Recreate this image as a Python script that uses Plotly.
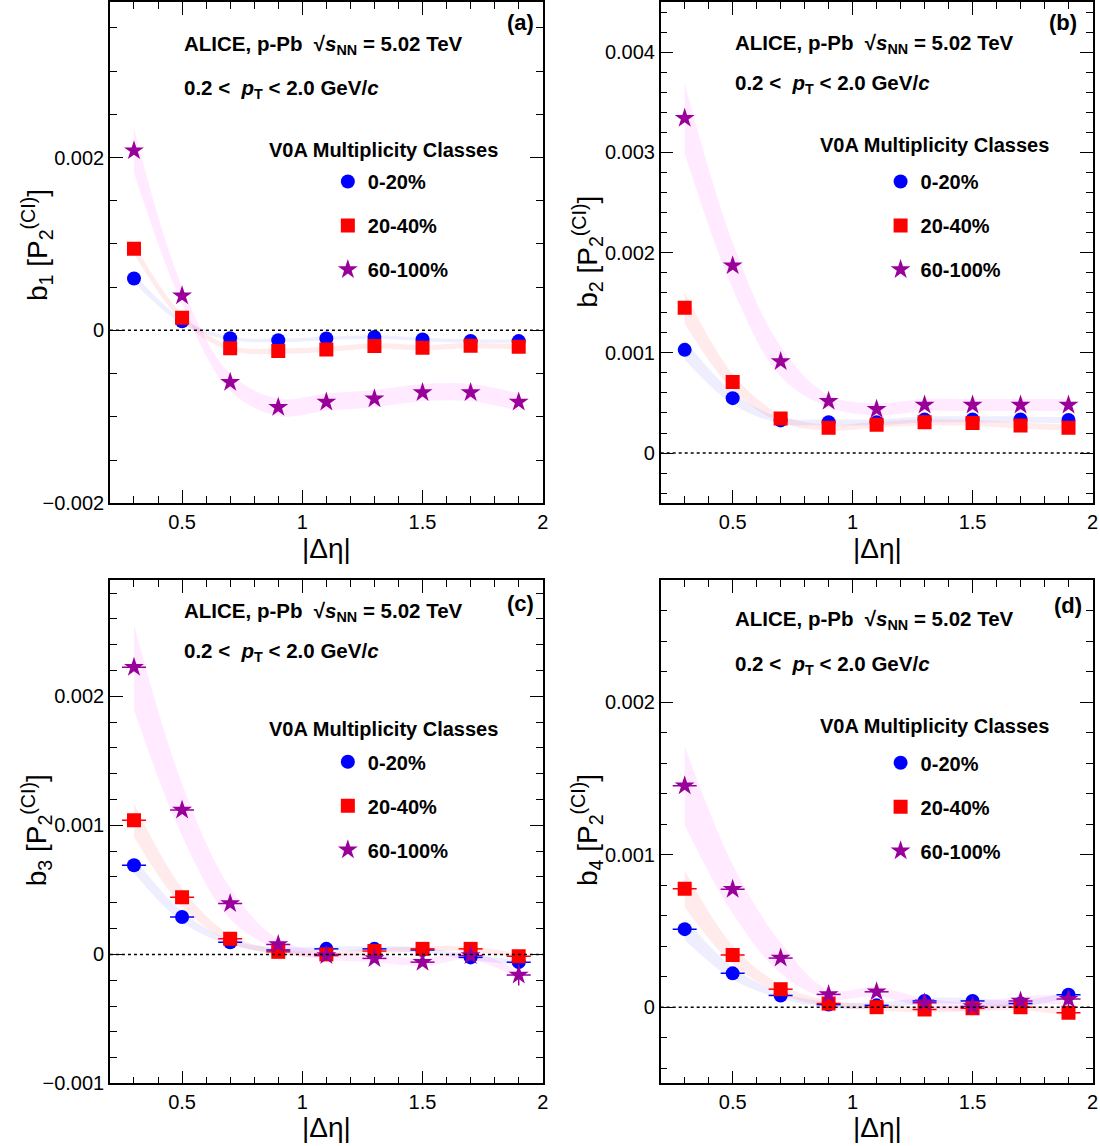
import plotly.graph_objects as go

# ---------------- data ----------------
deta = [0.3, 0.5, 0.7, 0.9, 1.1, 1.3, 1.5, 1.7, 1.9]
class_names = ["0-20%", "20-40%", "60-100%"]

# (a) b1
b1_0_20 = [0.00060, 0.000105, -0.000092, -0.000115, -0.000093, -0.000076, -0.000105, -0.000122, -0.000124]
b1_20_40 = [0.000946, 0.000145, -0.000207, -0.00024, -0.00022, -0.00018, -0.0002, -0.000177, -0.00019]
b1_60_100 = [0.00208, 0.000402, -0.0006, -0.00089, -0.00083, -0.00079, -0.00072, -0.00072, -0.00083]
b1_0_20_sys = [0.00005, 0.00003, 0.00002, 0.00002, 0.00002, 0.00002, 0.00002, 0.00002, 0.00002]
b1_20_40_sys = [0.00006, 0.00004, 0.00003, 0.00003, 0.00003, 0.00003, 0.00003, 0.00003, 0.00003]
b1_60_100_sys = [0.00026, 0.0001, 0.0001, 0.0001, 0.0001, 0.0001, 0.0001, 0.0001, 0.0001]

# (b) b2
b2_0_20 = [0.00103, 0.000548, 0.000326, 0.000307, 0.000307, 0.000336, 0.000336, 0.000336, 0.00033]
b2_20_40 = [0.00145, 0.00071, 0.000345, 0.000253, 0.000282, 0.000307, 0.0003, 0.000275, 0.000253]
b2_60_100 = [0.00334, 0.00187, 0.000913, 0.000517, 0.000438, 0.00048, 0.00048, 0.00048, 0.00048]
b2_0_20_sys = [0.0001, 0.00006, 0.00003, 0.00003, 0.00003, 0.00003, 0.00003, 0.00003, 0.00003]
b2_20_40_sys = [0.00016, 0.00008, 0.00004, 0.00003, 0.00003, 0.00003, 0.00003, 0.00003, 0.00003]
b2_60_100_sys = [0.00035, 0.00023, 0.00015, 0.00006, 0.00006, 0.00006, 0.00006, 0.00006, 0.00006]

# (c) b3
b3_0_20 = [0.000691, 0.00029, 0.000094, 0.000034, 0.000043, 0.000043, 0.000034, -0.000023, -0.00006]
b3_20_40 = [0.00104, 0.000443, 0.000121, 0.00002, 0.0, 0.000026, 0.000043, 0.000043, -0.000014]
b3_60_100 = [0.002226, 0.00112, 0.000394, 0.000077, -0.000009, -0.000031, -0.00006, -0.000009, -0.00016]
b3_0_20_sys = [0.00006, 0.00004, 0.00002, 0.00002, 0.00002, 0.00002, 0.00002, 0.00002, 0.00002]
b3_20_40_sys = [0.00013, 0.00007, 0.00003, 0.00002, 0.00002, 0.00002, 0.00002, 0.00002, 0.00002]
b3_60_100_sys = [0.00033, 0.0002, 0.00012, 0.00004, 0.00003, 0.00003, 0.00003, 0.00003, 0.00003]
b3_stat = [0.00002, 0.00002, 0.00002, 0.00002, 0.00002, 0.00002, 0.00002, 0.00002, 0.00003]
b3_60_100_stat = [0.00002, 0.00002, 0.00002, 0.00002, 0.00002, 0.00003, 0.00003, 0.00004, 0.00008]

# (d) b4
b4_0_20 = [0.000512, 0.000222, 0.000077, 0.000017, 0.000012, 0.000041, 0.000041, 0.000024, 0.000082]
b4_20_40 = [0.000776, 0.000343, 0.000118, 0.000024, 0.0, -0.000015, -0.000007, 0.0, -0.000036]
b4_60_100 = [0.001453, 0.000774, 0.000322, 0.000084, 0.000101, 0.000029, 0.000005, 0.000041, 0.000053]
b4_0_20_sys = [0.00007, 0.00004, 0.00002, 0.00002, 0.00002, 0.00002, 0.00002, 0.00002, 0.00002]
b4_20_40_sys = [0.00012, 0.00006, 0.00003, 0.00002, 0.00002, 0.00002, 0.00002, 0.00002, 0.00002]
b4_60_100_sys = [0.00026, 0.00016, 0.0001, 0.00003, 0.00003, 0.00003, 0.00003, 0.00003, 0.00003]
b4_stat = [0.00002, 0.00002, 0.00002, 0.00002, 0.00002, 0.00002, 0.00002, 0.00002, 0.00002]
b4_60_100_stat = [0.00002, 0.00002, 0.00002, 0.00002, 0.00002, 0.00002, 0.00002, 0.00003, 0.00005]

# ---------------- style ----------------
W, H = 1100, 1146
SX, SY = 0.995, 0.99   # compensation for the slight shrink seen in the rendered picture
def px(x): return min(1.0, (x / SX) / W)
def py(y): return max(0.0, 1 - (y / SY) / H)

FONT = "Arial, Liberation Sans, Helvetica, sans-serif"
marker_colors = ["#0000ff", "#ff0000", "#990099"]
band_colors = ["rgba(90,90,255,0.10)", "rgba(255,70,70,0.11)", "rgba(255,60,255,0.11)"]
symbols = ["circle", "square", "star"]
sizes = [14, 14, 15]

panels = [
    dict(n=1, label="(a)", sub="1",
         vals=[b1_0_20, b1_20_40, b1_60_100], sys=[b1_0_20_sys, b1_20_40_sys, b1_60_100_sys],
         stat=None, xerr=False,
         xdom=(110, 543), ydom=(2, 503), yrange=[-0.002, 0.0038], dtick=0.002, mdtick=0.0005,
         alice=(182, 45), pt=(182, 89), lab=(521, 22), v0a=(267, 150), leg=(328, 162),
         ytitle=(37, 245), xtitle=(327, 548)),
    dict(n=2, label="(b)", sub="2",
         vals=[b2_0_20, b2_20_40, b2_60_100], sys=[b2_0_20_sys, b2_20_40_sys, b2_60_100_sys],
         stat=None, xerr=False,
         xdom=(661, 1093), ydom=(2, 503), yrange=[-0.0005, 0.0045], dtick=0.001, mdtick=0.0002,
         alice=(733, 44), pt=(733, 84), lab=(1063, 22), v0a=(818, 145), leg=(881, 162),
         ytitle=(588, 252), xtitle=(878, 548)),
    dict(n=3, label="(c)", sub="3",
         vals=[b3_0_20, b3_20_40, b3_60_100], sys=[b3_0_20_sys, b3_20_40_sys, b3_60_100_sys],
         stat=[b3_stat, b3_stat, b3_60_100_stat], xerr=True,
         xdom=(110, 543), ydom=(580, 1083), yrange=[-0.001, 0.0029], dtick=0.001, mdtick=0.0002,
         alice=(182, 612), pt=(182, 652), lab=(521, 603), v0a=(267, 729), leg=(328, 742),
         ytitle=(37, 830), xtitle=(327, 1127)),
    dict(n=4, label="(d)", sub="4",
         vals=[b4_0_20, b4_20_40, b4_60_100], sys=[b4_0_20_sys, b4_20_40_sys, b4_60_100_sys],
         stat=[b4_stat, b4_stat, b4_60_100_stat], xerr=True,
         xdom=(661, 1093), ydom=(580, 1083), yrange=[-0.0005, 0.0028], dtick=0.001, mdtick=0.0002,
         alice=(733, 620), pt=(733, 665), lab=(1068, 605), v0a=(818, 726), leg=(881, 743),
         ytitle=(588, 830), xtitle=(878, 1127)),
]

fig = go.Figure()
annotations = []
shapes = []
layout_axes = {}

for p in panels:
    n = p["n"]
    xa = "x" if n == 1 else f"x{n}"
    ya = "y" if n == 1 else f"y{n}"
    leg = "legend" if n == 1 else f"legend{n}"

    # bands
    for k in range(3):
        v, s = p["vals"][k], p["sys"][k]
        upper = [a + b for a, b in zip(v, s)]
        lower = [a - b for a, b in zip(v, s)]
        fig.add_trace(go.Scatter(x=deta, y=upper, xaxis=xa, yaxis=ya, mode="lines",
                                 line=dict(width=0, shape="spline", smoothing=1.0),
                                 showlegend=False, hoverinfo="skip"))
        fig.add_trace(go.Scatter(x=deta, y=lower, xaxis=xa, yaxis=ya, mode="lines",
                                 line=dict(width=0, shape="spline", smoothing=1.0),
                                 fill="tonexty", fillcolor=band_colors[k],
                                 showlegend=False, hoverinfo="skip"))
    # markers
    for k in range(3):
        kw = {}
        if p["xerr"]:
            kw["error_x"] = dict(type="constant", value=0.05, color=marker_colors[k], thickness=1.5, width=0)
            kw["error_y"] = dict(type="data", array=p["stat"][k], color=marker_colors[k], thickness=1.5, width=0)
        fig.add_trace(go.Scatter(x=deta, y=p["vals"][k], xaxis=xa, yaxis=ya, mode="markers",
                                 name=class_names[k], legend=leg, legendgroup=f"{n}_{k}",
                                 marker=dict(symbol=symbols[k], size=sizes[k], color=marker_colors[k],
                                             line=dict(width=0)),
                                 showlegend=True, **kw))

    axis_common = dict(showline=True, linecolor="black", linewidth=1.5, mirror="allticks",
                       ticks="inside", ticklen=13, tickwidth=1.2, tickcolor="black",
                       showgrid=False, zeroline=False,
                       tickfont=dict(family=FONT, size=20, color="black"))
    xkey = "xaxis" if n == 1 else f"xaxis{n}"
    ykey = "yaxis" if n == 1 else f"yaxis{n}"
    layout_axes[xkey] = dict(axis_common, domain=[px(p["xdom"][0]), px(p["xdom"][1])],
                             range=[0.2, 2.0], tick0=0, dtick=0.5, anchor=ya,
                             minor=dict(ticks="inside", ticklen=7, dtick=0.1, tick0=0,
                                        tickcolor="black", tickwidth=1.2, showgrid=False))
    layout_axes[ykey] = dict(axis_common, domain=[py(p["ydom"][1]), py(p["ydom"][0])],
                             range=p["yrange"], tick0=0, dtick=p["dtick"], anchor=xa,
                             exponentformat="none",
                             minor=dict(ticks="inside", ticklen=7, dtick=p["mdtick"], tick0=0,
                                        tickcolor="black", tickwidth=1.2, showgrid=False))
    layout_axes[leg] = dict(x=px(p["leg"][0]), y=py(p["leg"][1]), xanchor="left", yanchor="top",
                            bgcolor="rgba(0,0,0,0)", tracegroupgap=15, itemsizing="trace",
                            font=dict(family=FONT, size=20, color="black", weight="bold"))

    # zero line
    shapes.append(dict(type="line", xref=f"{xa} domain", yref=ya, x0=0, x1=1, y0=0, y1=0,
                       line=dict(color="black", width=1.5, dash="dot")))

    # texts
    annotations.append(dict(x=px(p["alice"][0]), y=py(p["alice"][1]), xref="paper", yref="paper",
                            xanchor="left", yanchor="middle", showarrow=False,
                            text="<b>ALICE, p-Pb  √<i>s</i><sub>NN</sub> = 5.02 TeV</b>",
                            font=dict(family=FONT, size=20.5, color="black")))
    annotations.append(dict(x=px(p["pt"][0]), y=py(p["pt"][1]), xref="paper", yref="paper",
                            xanchor="left", yanchor="middle", showarrow=False,
                            text="<b>0.2 &lt;  <i>p</i><sub>T</sub> &lt; 2.0 GeV/<i>c</i></b>",
                            font=dict(family=FONT, size=20.5, color="black")))
    annotations.append(dict(x=px(p["lab"][0]), y=py(p["lab"][1]), xref="paper", yref="paper",
                            xanchor="center", yanchor="middle", showarrow=False,
                            text=f"<b>{p['label']}</b>",
                            font=dict(family=FONT, size=22, color="black")))
    annotations.append(dict(x=px(p["v0a"][0]), y=py(p["v0a"][1]), xref="paper", yref="paper",
                            xanchor="left", yanchor="middle", showarrow=False,
                            text="<b>V0A Multiplicity Classes</b>",
                            font=dict(family=FONT, size=20, color="black")))
    annotations.append(dict(x=px(p["ytitle"][0]), y=py(p["ytitle"][1]), xref="paper", yref="paper",
                            xanchor="center", yanchor="middle", showarrow=False, textangle=-90,
                            text=f"b<sub>{p['sub']}</sub> [P<sub>2</sub><sup>(CI)</sup>]",
                            font=dict(family=FONT, size=28, color="black")))
    annotations.append(dict(x=px(p["xtitle"][0]), y=py(p["xtitle"][1]), xref="paper", yref="paper",
                            xanchor="center", yanchor="middle", showarrow=False,
                            text="|Δη|",
                            font=dict(family=FONT, size=28, color="black")))

fig.update_layout(
    width=W, height=H,
    margin=dict(l=0, r=0, t=0, b=0),
    paper_bgcolor="white", plot_bgcolor="white",
    font=dict(family=FONT, color="black"),
    annotations=annotations, shapes=shapes,
    **layout_axes,
)

fig.write_html(
    "out.html",
    config={"displayModeBar": False},
    post_script=("document.documentElement.style.overflow='hidden';"
                 "document.body.style.margin='0';document.body.style.overflow='hidden';"),
)
